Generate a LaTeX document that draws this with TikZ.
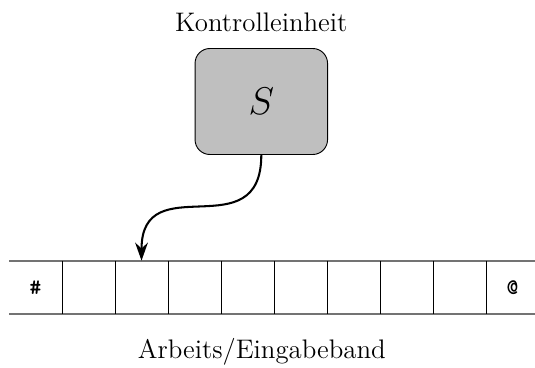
\documentclass[tikz,border=0pt]{standalone}
\usetikzlibrary{arrows.meta}
\begin{document}
\begin{tikzpicture}[
  control/.style={draw=black, fill=black!25, rounded corners=0.28cm,
    minimum width=2.5cm, minimum height=2cm, inner sep=0pt, line width=0.5pt},
  cell/.style={minimum size=1cm, inner sep=0pt, font=\large\ttfamily\bfseries},
  tapeedge/.style={draw=black!55, line width=0.8pt},
  divider/.style={draw=black, line width=0.5pt},
  caption/.style={font=\Large},
  head/.style={-{Stealth[length=3.4mm,width=2.4mm,inset=1.1mm]}, line width=1.1pt}
]
\useasboundingbox (0,0) rectangle (10.094,-6.925);

% control unit
\node[control] (S) at (4.93,-1.915) {\huge $S$};
\node[caption] (ctl) at (4.93,-0.415) {Kontrolleinheit};

% tape cells
\foreach \i in {0,...,9} {
  \node[cell] (c\i) at (0.67+\i,-5.425) {};
}
\node[cell] at (c0) {\#};
\node[cell] at (c9) {@};

% tape borders
\draw[tapeedge] (0.17,-4.925) -- (10.094,-4.925);
\draw[tapeedge] (0.17,-5.925) -- (10.094,-5.925);
\foreach \i in {0,...,8} {
  \draw[divider] (c\i.north east) -- (c\i.south east);
}

\node[caption] (tape) at (4.94,-6.64) {Arbeits/Eingabeband};

% read/write head
\draw[head] (S.south) .. controls +(0,-1.8) and +(0,1.8) .. (c2.north);
\end{tikzpicture}
\end{document}
